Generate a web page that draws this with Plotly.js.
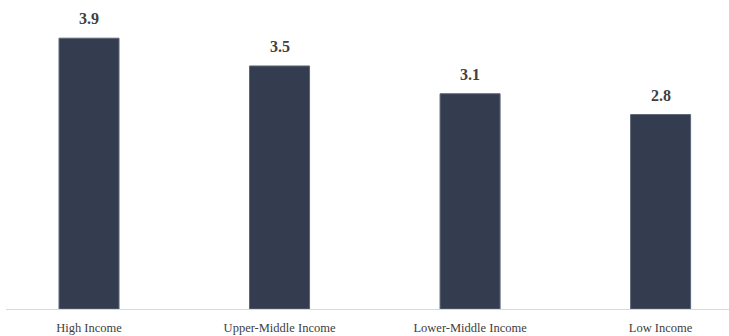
<!DOCTYPE html>
<html><head><meta charset="utf-8">
<script src="https://cdn.plot.ly/plotly-3.0.1.min.js"></script>
<style>html,body{margin:0;padding:0;background:#fff;}#chart{width:729px;height:336px;}</style>
</head><body><div id="chart"></div>
<script>
const categories = ["High Income", "Upper-Middle Income", "Lower-Middle Income", "Low Income"];
const values = [3.9, 3.5, 3.1, 2.8];
const valueLabels = ["3.9", "3.5", "3.1", "2.8"];

const serif = "'Liberation Serif', 'DejaVu Serif', serif";
const trace = {
  type: "bar",
  x: categories,
  y: values,
  width: 0.315,
  marker: {color: "#333d4f", line: {color: "#5d6676", width: 1}},
  hoverinfo: "none"
};
const annotations = categories.map((c, i) => ({
  x: c, y: values[i], text: "<b>" + valueLabels[i] + "</b>",
  showarrow: false, xanchor: "center", yanchor: "bottom", yshift: 9,
  font: {family: serif, size: 16, color: "#404040"}
}));
const layout = {
  width: 729, height: 336,
  margin: {l: 6, r: 0, t: 0, b: 27},
  paper_bgcolor: "#fff", plot_bgcolor: "#fff",
  showlegend: false,
  font: {family: serif},
  xaxis: {
    type: "category", range: [-0.4357, 3.359],
    showline: true, linecolor: "#d9d9d9", linewidth: 1,
    showgrid: false, zeroline: false, ticks: "",
    ticklabelstandoff: 7,
    tickfont: {family: serif, size: 12.5, color: "#404040"}
  },
  yaxis: {range: [0, 4.45], visible: false, showgrid: false, zeroline: false},
  annotations: annotations
};
Plotly.newPlot("chart", [trace], layout, {staticPlot: true, displayModeBar: false});
</script></body></html>
